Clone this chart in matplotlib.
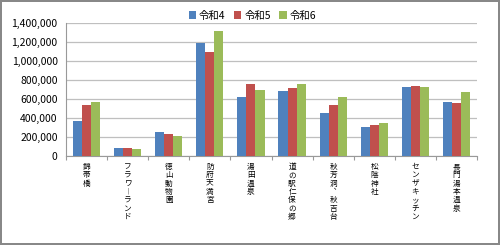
import numpy as np
import matplotlib.pyplot as plt
from matplotlib.ticker import FuncFormatter

plt.rcParams['font.family'] = ['Noto Sans CJK JP', 'DejaVu Sans']

places = ['錦帯橋', 'フラワーランド', '徳山動物園', '防府天満宮', '湯田温泉',
          '道の駅仁保の郷', '秋芳洞、秋吉台', '松陰神社', 'センザキッチン', '長門湯本温泉']
r4 = [372000, 87000, 249000, 1186000, 618000, 684000, 449000, 309000, 730000, 565000]
r5 = [537000, 81000, 232000, 1090000, 755000, 719000, 533000, 326000, 733000, 554000]
r6 = [565000, 77000, 210000, 1312000, 695000, 755000, 618000, 344000, 723000, 674000]
series = ['令和4', '令和5', '令和6']
colors = ['#4F81BD', '#C0504D', '#9BBB59']

# vertical (tategaki) label forms
vert = {'ー': '︱', '、': '︑'}

def tategaki(s):
    return '\n'.join(vert.get(c, c) for c in s)

fig = plt.figure(figsize=(5, 2.45), dpi=100)
fig.patch.set_edgecolor('#888888')
fig.patch.set_linewidth(1.5)
ax = fig.add_axes([0.132, 0.363, 0.822, 0.543])

x = np.arange(len(places))
w = 0.22
for i, (vals, name) in enumerate(zip([r4, r5, r6], series)):
    ax.bar(x + (i - 1) * w, vals, w, color=colors[i], label=name, zorder=3)

ax.set_ylim(0, 1400000)
ax.set_yticks(np.arange(0, 1400001, 200000))
ax.yaxis.set_major_formatter(FuncFormatter(lambda v, p: f'{int(v):,}'))
ax.set_xlim(-0.5, len(places) - 0.5)
ax.grid(axis='y', color='#bfbfbf', linewidth=0.9, zorder=0)

for s in ['top', 'right']:
    ax.spines[s].set_visible(False)
for s in ['left', 'bottom']:
    ax.spines[s].set_color('#999999')

ax.set_xticks(np.arange(-0.5, len(places), 1))
ax.set_xticklabels([])
ax.set_xticks(x, minor=True)
ax.set_xticklabels([tategaki(p) for p in places], minor=True, fontsize=5.5,
                   linespacing=1.05, va='top')
ax.tick_params(axis='x', which='minor', length=0, pad=5)
ax.tick_params(axis='x', which='major', length=3, color='#999999', direction='out')
ax.tick_params(axis='y', length=0, labelsize=7.5, pad=6)

fig.legend(loc='upper center', bbox_to_anchor=(0.505, 0.995), ncol=3, frameon=False,
           fontsize=7.5, handlelength=0.7, handleheight=0.7, handletextpad=0.3,
           columnspacing=0.8)

fig.savefig('out.png', dpi=100, edgecolor=fig.get_edgecolor())
